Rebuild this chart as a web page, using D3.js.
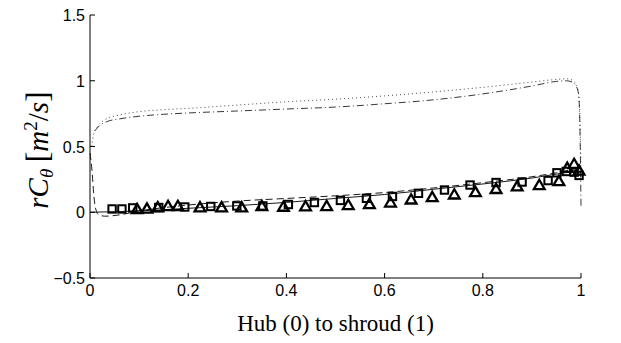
<!DOCTYPE html>
<html><head><meta charset="utf-8">
<script src="https://cdn.jsdelivr.net/npm/d3@7"></script>
<style>body{margin:0;background:#fff}svg{display:block}</style>
</head><body><svg id="c" width="621" height="343"></svg>
<script>
// ---- data ----
const xTicks = [0, 0.2, 0.4, 0.6, 0.8, 1];
const yTicks = [-0.5, 0, 0.5, 1, 1.5];
const xTickLabels = ["0", "0.2", "0.4", "0.6", "0.8", "1"];
const yTickLabels = ["\u22120.5", "0", "0.5", "1", "1.5"];
const xLabel = "Hub (0) to shroud (1)";

const solidX = [0, 0.1, 0.2, 0.3, 0.4, 0.5, 0.6, 0.7, 0.8, 0.9, 0.95, 0.98, 0.995, 1.0];
const solidY = [0, 0.01, 0.03, 0.05, 0.075, 0.105, 0.135, 0.175, 0.215, 0.26, 0.29, 0.305, 0.295, 0.27];

const dashedX = [0, 0.004, 0.008, 0.012, 0.018, 0.03, 0.06, 0.1, 0.15, 0.2, 0.3, 0.4, 0.5, 0.6, 0.7, 0.8, 0.9, 0.95, 0.98, 0.995, 1.0];
const dashedY = [0.45, 0.32, 0.12, 0.02, -0.02, -0.03, -0.02, 0.01, 0.035, 0.055, 0.085, 0.105, 0.125, 0.15, 0.185, 0.225, 0.27, 0.3, 0.32, 0.31, 0.29];

const dottedX = [0.003, 0.008, 0.015, 0.025, 0.04, 0.06, 0.1, 0.15, 0.2, 0.3, 0.4, 0.5, 0.6, 0.7, 0.8, 0.9, 0.95, 0.97, 0.982, 0.99, 0.995, 0.998, 1.0];
const dottedY = [0.5, 0.6, 0.65, 0.69, 0.72, 0.74, 0.765, 0.78, 0.79, 0.815, 0.84, 0.86, 0.885, 0.915, 0.95, 0.99, 1.01, 1.015, 1.005, 0.97, 0.9, 0.7, 0.28];

const dashDotX = [0.01, 0.02, 0.035, 0.06, 0.1, 0.15, 0.2, 0.3, 0.4, 0.5, 0.6, 0.7, 0.8, 0.9, 0.95, 0.97, 0.982, 0.99, 0.995, 0.998, 1.0];
const dashDotY = [0.62, 0.66, 0.69, 0.71, 0.73, 0.745, 0.755, 0.77, 0.785, 0.8, 0.825, 0.855, 0.9, 0.96, 0.995, 1.0, 0.99, 0.96, 0.9, 0.6, 0.05];

const squareX = [0.045, 0.065, 0.087, 0.14, 0.193, 0.246, 0.299, 0.352, 0.404, 0.457, 0.51, 0.563, 0.616, 0.669, 0.722, 0.774, 0.827, 0.88, 0.933, 0.951, 0.97, 0.986, 0.996];
const squareY = [0.025, 0.025, 0.033, 0.036, 0.04, 0.044, 0.048, 0.048, 0.059, 0.074, 0.09, 0.106, 0.12, 0.144, 0.169, 0.207, 0.226, 0.23, 0.241, 0.3, 0.31, 0.305, 0.28];

const triX = [0.096, 0.116, 0.138, 0.159, 0.179, 0.224, 0.268, 0.309, 0.35, 0.394, 0.439, 0.482, 0.526, 0.569, 0.612, 0.654, 0.697, 0.742, 0.785, 0.827, 0.87, 0.915, 0.955, 0.972, 0.986, 0.996];
const triY = [0.017, 0.02, 0.03, 0.04, 0.04, 0.03, 0.03, 0.03, 0.04, 0.035, 0.038, 0.04, 0.048, 0.055, 0.067, 0.09, 0.108, 0.128, 0.146, 0.17, 0.19, 0.2, 0.23, 0.33, 0.36, 0.31];

// ---- layout ----
const svg = d3.select("#c");
const x = d3.scaleLinear().domain([0, 1]).range([90, 581]);
const y = d3.scaleLinear().domain([-0.5, 1.5]).range([278, 15]);

const g = svg.append("g");
const zip = (a, b) => a.map((v, i) => [v, b[i]]);
const line = d3.line().x(d => x(d[0])).y(d => y(d[1])).curve(d3.curveMonotoneX);

g.append("path").datum(zip(dottedX, dottedY)).attr("d", line)
  .attr("fill", "none").attr("stroke", "#333").attr("stroke-width", 0.9).attr("stroke-dasharray", "1,3");
g.append("path").datum(zip(dashDotX, dashDotY)).attr("d", line)
  .attr("fill", "none").attr("stroke", "#222").attr("stroke-width", 0.9).attr("stroke-dasharray", "7,3,1,3");
g.append("path").datum(zip(dashedX, dashedY)).attr("d", line)
  .attr("fill", "none").attr("stroke", "#000").attr("stroke-width", 0.9).attr("stroke-dasharray", "7,4");
g.append("path").datum(zip(solidX, solidY)).attr("d", line)
  .attr("fill", "none").attr("stroke", "#000").attr("stroke-width", 0.9);

g.selectAll("rect.sq").data(zip(squareX, squareY)).join("rect").attr("class", "sq")
  .attr("x", d => x(d[0]) - 3.7).attr("y", d => y(d[1]) - 3.7).attr("width", 7.4).attr("height", 7.4)
  .attr("fill", "none").attr("stroke", "#000").attr("stroke-width", 2);

const tri = d3.symbol().type(d3.symbolTriangle).size(50);
g.selectAll("path.tr").data(zip(triX, triY)).join("path").attr("class", "tr")
  .attr("transform", d => `translate(${x(d[0])},${y(d[1])})`).attr("d", tri)
  .attr("fill", "none").attr("stroke", "#000").attr("stroke-width", 2.3);

// axes
const ax = svg.append("g").attr("font-family", "'Liberation Sans', Arial, sans-serif").attr("font-size", 16);
ax.append("line").attr("x1", x(0)).attr("x2", x(1)).attr("y1", y(-0.5)).attr("y2", y(-0.5)).attr("stroke", "#000");
ax.append("line").attr("x1", x(0)).attr("x2", x(0)).attr("y1", y(-0.5)).attr("y2", y(1.5)).attr("stroke", "#000");
xTicks.forEach((t, i) => {
  ax.append("line").attr("x1", x(t)).attr("x2", x(t)).attr("y1", y(-0.5)).attr("y2", y(-0.5) - 5).attr("stroke", "#000");
  ax.append("text").attr("x", x(t)).attr("y", y(-0.5) + 18).attr("text-anchor", "middle").text(xTickLabels[i]);
});
yTicks.forEach((t, i) => {
  ax.append("line").attr("x1", x(0)).attr("x2", x(0) + 5).attr("y1", y(t)).attr("y2", y(t)).attr("stroke", "#000");
  ax.append("text").attr("x", x(0) - 5).attr("y", y(t) + 6).attr("text-anchor", "end").text(yTickLabels[i]);
});

svg.append("text").attr("x", (x(0) + x(1)) / 2).attr("y", 331).attr("text-anchor", "middle")
  .attr("font-family", "'Liberation Serif', 'Times New Roman', serif").attr("font-size", 23).text(xLabel);

const yl = svg.append("text").attr("transform", "translate(48,150) rotate(-90)").attr("text-anchor", "middle")
  .attr("font-family", "'Liberation Serif', 'Times New Roman', serif").attr("font-size", 29);
yl.append("tspan").attr("font-style", "italic").text("rC");
yl.append("tspan").attr("font-style", "italic").attr("font-size", 19).attr("dy", 5).text("\u03b8");
yl.append("tspan").attr("dy", -5).attr("font-size", 32).text("\u2009[");
yl.append("tspan").attr("font-style", "italic").text("m");
yl.append("tspan").attr("font-size", 19).attr("dy", -11).text("2");
yl.append("tspan").attr("dy", 11).text("/");
yl.append("tspan").attr("font-style", "italic").text("s");
yl.append("tspan").attr("font-size", 32).text("]");
</script></body></html>
